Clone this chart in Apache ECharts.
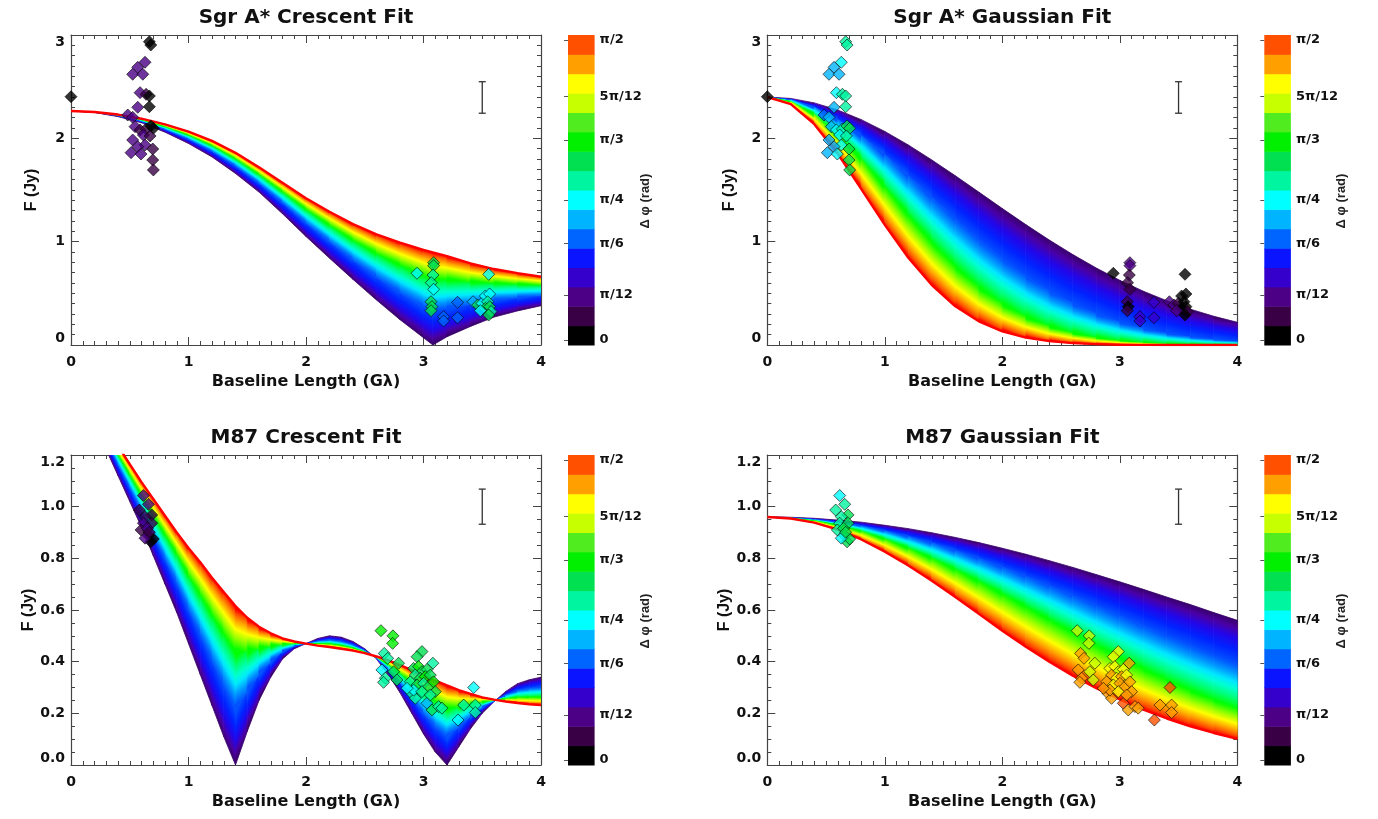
<!DOCTYPE html>
<html><head><meta charset="utf-8">
<script src="https://cdn.jsdelivr.net/npm/echarts@6/dist/echarts.min.js"></script>
<style>html,body{margin:0;padding:0;background:#fff}#c{width:1378px;height:819px}</style>
</head><body><div id="c"></div>
<script>
// ---------------- DATA ----------------
// Model curves (F in Jy) vs baseline length (Glambda) for delta-phi = 0, pi/6, pi/3, pi/2
const sgrCresX   = [0,0.2,0.4,0.6,0.8,1.0,1.2,1.4,1.6,1.8,2.0,2.2,2.4,2.6,2.8,3.0,3.08,3.2,3.4,3.6,3.8,4.0];
const sgrCresD0  = [2.265,2.25,2.21,2.15,2.06,1.95,1.82,1.66,1.48,1.27,1.05,0.84,0.635,0.435,0.245,0.07,0.0,0.08,0.18,0.27,0.33,0.38];
const sgrCresD30 = [2.265,2.252,2.217,2.164,2.086,1.99,1.874,1.73,1.564,1.375,1.18,0.998,0.822,0.657,0.506,0.368,0.33,0.355,0.394,0.433,0.458,0.478];
const sgrCresD60 = [2.265,2.254,2.224,2.178,2.113,2.032,1.93,1.802,1.65,1.483,1.313,1.16,1.015,0.886,0.774,0.674,0.64,0.634,0.613,0.6,0.589,0.58];
const sgrCresD90 = [2.265,2.255,2.23,2.19,2.135,2.065,1.975,1.86,1.72,1.57,1.42,1.29,1.17,1.07,0.99,0.92,0.895,0.86,0.79,0.735,0.695,0.661];

const sgrGausX   = [0,0.2,0.4,0.6,0.8,1.0,1.2,1.4,1.6,1.8,2.0,2.2,2.4,2.6,2.8,3.0,3.2,3.4,3.6,3.8,4.0];
const sgrGausD0  = [2.4,2.386,2.343,2.274,2.181,2.067,1.936,1.791,1.638,1.48,1.321,1.165,1.016,0.875,0.745,0.626,0.521,0.428,0.347,0.278,0.22];
const sgrGausD30 = [2.4,2.375,2.301,2.182,2.026,1.842,1.64,1.429,1.22,1.019,0.834,0.667,0.523,0.402,0.302,0.222,0.16,0.113,0.078,0.053,0.035];
const sgrGausD60 = [2.4,2.357,2.234,2.042,1.801,1.533,1.258,0.996,0.761,0.561,0.399,0.274,0.181,0.116,0.071,0.042,0.024,0.013,0.007,0.004,0.002];
const sgrGausD90 = [2.4,2.331,2.137,1.849,1.509,1.163,0.845,0.58,0.375,0.229,0.132,0.072,0.037,0.018,0.008,0.003,0.001,0,0,0,0];

const m87CresX   = [0.2,0.3,0.4,0.5,0.6,0.7,0.8,0.9,1.0,1.1,1.2,1.3,1.4,1.5,1.6,1.7,1.8,1.9,2.0,2.1,2.2,2.3,2.4,2.5,2.6,2.7,2.8,2.9,3.0,3.1,3.2,3.3,3.4,3.5,3.6,3.7,3.8,3.9,4.0];
const m87CresD0  = [1.31,1.22,1.12,1.02,0.92,0.81,0.7,0.59,0.47,0.35,0.23,0.11,0.0,0.13,0.25,0.34,0.41,0.45,0.47,0.49,0.5,0.495,0.478,0.45,0.41,0.35,0.28,0.2,0.12,0.05,0.0,0.07,0.14,0.2,0.245,0.285,0.315,0.33,0.34];
const m87CresD30 = [1.335,1.252,1.16,1.071,0.981,0.887,0.795,0.702,0.6,0.502,0.403,0.306,0.215,0.284,0.35,0.4,0.438,0.46,0.47,0.48,0.485,0.479,0.466,0.444,0.414,0.369,0.317,0.258,0.199,0.147,0.108,0.147,0.187,0.222,0.248,0.271,0.289,0.297,0.302];
const m87CresD60 = [1.36,1.284,1.202,1.123,1.044,0.966,0.892,0.817,0.733,0.659,0.581,0.508,0.437,0.442,0.452,0.461,0.467,0.47,0.47,0.47,0.469,0.463,0.453,0.438,0.417,0.389,0.356,0.319,0.281,0.247,0.219,0.226,0.236,0.244,0.251,0.257,0.262,0.263,0.263];
const m87CresD90 = [1.38,1.31,1.235,1.165,1.095,1.03,0.965,0.9,0.84,0.785,0.725,0.67,0.615,0.57,0.535,0.51,0.49,0.478,0.47,0.462,0.457,0.45,0.443,0.433,0.42,0.405,0.387,0.367,0.347,0.327,0.308,0.29,0.275,0.262,0.253,0.246,0.24,0.235,0.232];

const m87GausX   = [0,0.2,0.4,0.6,0.8,1.0,1.2,1.4,1.6,1.8,2.0,2.2,2.4,2.6,2.8,3.0,3.2,3.4,3.6,3.8,4.0];
const m87GausD0  = [0.96,0.959,0.955,0.948,0.94,0.928,0.915,0.899,0.881,0.861,0.839,0.816,0.791,0.765,0.737,0.709,0.68,0.65,0.621,0.59,0.56];
const m87GausD30 = [0.96,0.958,0.951,0.941,0.926,0.907,0.885,0.86,0.831,0.8,0.766,0.731,0.694,0.656,0.617,0.578,0.539,0.5,0.463,0.425,0.39];
const m87GausD60 = [0.96,0.956,0.946,0.929,0.905,0.875,0.84,0.801,0.757,0.711,0.663,0.613,0.563,0.513,0.464,0.417,0.372,0.329,0.289,0.252,0.218];
const m87GausD90 = [0.96,0.954,0.938,0.911,0.873,0.826,0.772,0.713,0.65,0.585,0.52,0.458,0.4,0.346,0.297,0.254,0.214,0.18,0.15,0.124,0.101];

// Measured amplitudes (shared by both fits of a source), colour = colour-bar step index
const sgrX = [0.667,0.679,0.63,0.568,0.525,0.611,0.588,0.639,0.667,0.568,0.667,0.483,0.525,0.545,0.588,0.639,0.679,0.701,0.616,0.673,0.525,0.63,0.568,0.696,0.511,0.596,0.696,0.701,0.0,
              2.945,3.086,3.086,3.081,3.066,3.086,3.064,3.072,3.064,3.171,3.171,3.29,3.29,3.555,3.422,3.461,3.498,3.526,3.563,3.546,3.526,3.563,3.575,3.484,3.555];
const sgrY = [2.935,2.903,2.736,2.687,2.62,2.62,2.442,2.426,2.41,2.3,2.306,2.226,2.203,2.113,2.081,2.09,2.12,2.097,2.032,2.023,1.984,1.935,1.919,1.897,1.861,1.848,1.79,1.694,2.403,
              0.694,0.797,0.768,0.677,0.603,0.539,0.419,0.371,0.332,0.274,0.232,0.413,0.264,0.684,0.419,0.387,0.403,0.474,0.494,0.419,0.355,0.371,0.323,0.332,0.29];
const sgrCresC = [0,0,2,2,2,2,2,1,0,2,0,2,2,2,1,1,0,0,2,1,2,2,2,1,2,2,1,1,0,
                  7,9,9,8,8,7,9,9,9,5,5,5,5,7,6,9,7,7,7,8,9,9,8,7,9];
const sgrGausC = [8,8,7,6,6,6,7,8,8,6,8,5,6,6,7,8,9,9,7,8,6,7,6,9,6,7,9,9,0,
                  0,2,2,1,1,1,1,0,1,3,3,3,3,0,2,2,1,0,0,0,0,0,1,2,0];

const m87X = [0.616,0.582,0.659,0.687,0.63,0.616,0.687,0.596,0.65,0.659,0.679,0.701,0.63,0.667,
              2.638,2.74,2.737,2.666,2.695,2.646,2.675,2.66,2.745,2.788,2.774,2.987,2.945,3.08,2.9,2.93,3.03,3.072,3.129,3.157,3.427,3.342,3.441,3.441,3.294,
              2.916,2.958,2.987,3.03,2.93,2.973,3.015,3.058,2.888,2.945,3.001,3.044,3.086,2.916,2.987,3.1,3.058,2.86];
const m87Y = [1.043,0.987,1.009,0.968,0.961,0.936,0.936,0.91,0.916,0.888,0.864,0.875,0.878,0.901,
              0.52,0.5,0.471,0.432,0.413,0.368,0.336,0.32,0.361,0.394,0.329,0.439,0.419,0.394,0.277,0.258,0.239,0.213,0.226,0.22,0.3,0.232,0.232,0.203,0.174,
              0.374,0.381,0.361,0.37,0.348,0.336,0.342,0.348,0.322,0.31,0.316,0.303,0.322,0.29,0.284,0.284,0.271,0.297];
const m87CresC = [2,1,2,1,1,2,1,1,2,1,0,0,2,1,
                  10,10,10,8,8,7,8,8,9,9,9,9,9,8,8,8,6,9,8,8,7,8,8,8,7,
                  9,10,9,9,8,9,10,9,8,9,8,9,10,7,8,9,8,7];
const m87GausC = [7,8,8,9,8,8,9,8,9,9,9,9,7,9,
                  12,12,12,14,14,14,14,14,12,12,12,13,13,14,14,14,15,14,14,14,15,14,14,14,15,
                  13,13,12,13,14,13,14,13,14,13,14,14,14,14,13,14,14,14];

// Error bars [x, low, high]
const sgrErr = [[3.5, 2.243, 2.548]];
const m87Err = [[3.5, 0.932, 1.068]];

// Axis ticks / labels
const sgrYMax = 3, sgrYStep = 1;
const m87YMax = 1.2, m87YStep = 0.2;
const xMax = 4, xStep = 1;
const cbLabels = ['0','π/12','π/6','π/4','π/3','5π/12','π/2'];
const cbTickPos = [1.45,14.5,29.5,42.1,59.5,72.1,88.55];   // colour-bar label positions (degrees scale, 0..90)
const titles = ['Sgr A* Crescent Fit','Sgr A* Gaussian Fit','M87 Crescent Fit','M87 Gaussian Fit'];

// ---------------- STYLE ----------------
const FONT = 'DejaVu Sans';
const VFONT = 'Liberation Sans';
const cbPalette = ['#000000','#3a0046','#4b0086','#3600cc','#0a14ff','#0064ff','#00b4ff','#00ffff',
                   '#00f5a0','#00e050','#00f000','#50ec20','#c8ff00','#ffff00','#ffa000','#ff5000'];
const bandStops = [
  [[0,'#38006a'],[0.18,'#4a00a4'],[0.42,'#2206ea'],[0.7,'#0022ff'],[1,'#0050ff']],
  [[0,'#0050ff'],[0.22,'#0098ff'],[0.42,'#00e8ff'],[0.58,'#00ffd0'],[0.8,'#00ff70'],[1,'#00ff00']],
  [[0,'#00ff00'],[0.3,'#a0ff00'],[0.5,'#ffff00'],[0.72,'#ffa000'],[0.88,'#ff5000'],[1,'#ff0000']]
];
const layouts = [
  {left:71, top:35}, {left:767.3, top:35}, {left:71, top:455}, {left:767.3, top:455}
];
const PW = 470, PH = 310, CBW = 26.6, CBGAP = 27;

const panels = [
  {xs:sgrCresX, lv:[sgrCresD0,sgrCresD30,sgrCresD60,sgrCresD90], px:sgrX, py:sgrY, pc:sgrCresC, err:sgrErr, ymax:sgrYMax, ystep:sgrYStep, minor:10, fmt:v=>String(v)},
  {xs:sgrGausX, lv:[sgrGausD0,sgrGausD30,sgrGausD60,sgrGausD90], px:sgrX, py:sgrY, pc:sgrGausC, err:sgrErr, ymax:sgrYMax, ystep:sgrYStep, minor:10, fmt:v=>String(v)},
  {xs:m87CresX, lv:[m87CresD0,m87CresD30,m87CresD60,m87CresD90], px:m87X, py:m87Y, pc:m87CresC, err:m87Err, ymax:m87YMax, ystep:m87YStep, minor:4, fmt:v=>v.toFixed(1)},
  {xs:m87GausX, lv:[m87GausD0,m87GausD30,m87GausD60,m87GausD90], px:m87X, py:m87Y, pc:m87GausC, err:m87Err, ymax:m87YMax, ystep:m87YStep, minor:4, fmt:v=>v.toFixed(1)}
];

function fanData(xs, lv) {
  const out = [];
  for (let b = 0; b < lv.length - 1; b++) {
    const lo = lv[b], hi = lv[b+1];
    for (let i = 0; i < xs.length - 1; i++) out.push([xs[i], xs[i+1], lo[i], lo[i+1], hi[i], hi[i+1], b]);
  }
  return out;
}
function fanRender(params, api) {
  const xa = api.value(0), xb = api.value(1), la = api.value(2), lb = api.value(3), ha = api.value(4), hb = api.value(5), b = api.value(6);
  const p1 = api.coord([xa, la]), p2 = api.coord([xb, lb]), p3 = api.coord([xb, hb]), p4 = api.coord([xa, ha]);
  const mLx = (p1[0]+p2[0])/2, mLy = (p1[1]+p2[1])/2, mHx = (p3[0]+p4[0])/2, mHy = (p3[1]+p4[1])/2;
  let dx = (p2[0]-p1[0]+p3[0]-p4[0])/2, dy = (p2[1]-p1[1]+p3[1]-p4[1])/2;
  const len = Math.hypot(dx, dy) || 1; dx /= len; dy /= len;
  const nx = -dy, ny = dx;
  let t = (mHx-mLx)*nx + (mHy-mLy)*ny;
  if (Math.abs(t) < 0.5) t = t < 0 ? -0.5 : 0.5;
  const stops = bandStops[b].map(s => ({offset:s[0], color:s[1]}));
  const grad = new echarts.graphic.LinearGradient(mLx, mLy, mLx + nx*t, mLy + ny*t, stops, true);
  return {type:'polygon', shape:{points:[p1,p2,p3,p4]}, style:{fill:grad, stroke:grad, lineWidth:0.8}};
}
function errRender(params, api) {
  const a = api.coord([api.value(0), api.value(1)]), c = api.coord([api.value(0), api.value(2)]);
  const w = 3.5, st = {stroke:'#333', lineWidth:1.3};
  return {type:'group', children:[
    {type:'line', shape:{x1:a[0], y1:a[1], x2:c[0], y2:c[1]}, style:st},
    {type:'line', shape:{x1:a[0]-w, y1:a[1], x2:a[0]+w, y2:a[1]}, style:st},
    {type:'line', shape:{x1:c[0]-w, y1:c[1], x2:c[0]+w, y2:c[1]}, style:st}
  ]};
}
function cbRender(params, api) {
  const i = api.value(0), step = 90/16;
  const a = api.coord([0, i*step]), c = api.coord([1, (i+1)*step]);
  return {type:'rect', shape:{x:a[0], y:c[1], width:c[0]-a[0], height:a[1]-c[1]+0.5}, style:{fill:cbPalette[i]}};
}
function cbFormat(v) {
  let best = 0, bd = Infinity;
  cbTickPos.forEach((p, i) => { const d = Math.abs(p - v); if (d < bd) { bd = d; best = i; } });
  return cbLabels[best];
}

const axisCol = '#444';
const grid = [], xAxis = [], yAxis = [], series = [], gfx = [];
const labelStyle = {color:'#111', fontFamily:FONT, fontWeight:'bold', fontSize:14};
const nameStyle = {color:'#111', fontFamily:FONT, fontWeight:'bold', fontSize:16};
const vNameStyle = {color:'#111', fontFamily:VFONT, fontWeight:'bold', fontSize:16};

panels.forEach((p, g) => {
  const L = layouts[g];
  grid.push({left:L.left, top:L.top, width:PW, height:PH, containLabel:false, outerBoundsMode:'none'});
  const tick = {show:true, inside:true, length:8, lineStyle:{color:axisCol, width:1}};
  const mtick = (n) => ({show:true, splitNumber:n, length:4, lineStyle:{color:axisCol, width:1}});
  const line = {show:true, onZero:false, lineStyle:{color:axisCol, width:1.2}};
  xAxis.push({gridIndex:g, type:'value', min:0, max:xMax, interval:xStep, position:'bottom',
    axisLine:line, axisTick:tick, minorTick:mtick(10), splitLine:{show:false}, minorSplitLine:{show:false},
    axisLabel:Object.assign({margin:10}, labelStyle),
    name:'Baseline Length (Gλ)', nameLocation:'middle', nameGap:29, nameTextStyle:nameStyle});
  xAxis.push({gridIndex:g, type:'value', min:0, max:xMax, interval:xStep, position:'top',
    axisLine:line, axisTick:tick, minorTick:mtick(10), splitLine:{show:false}, axisLabel:{show:false}});
  yAxis.push({gridIndex:g, type:'value', min:0, max:p.ymax, interval:p.ystep, position:'left',
    axisLine:line, axisTick:tick, minorTick:mtick(p.minor), splitLine:{show:false}, minorSplitLine:{show:false},
    axisLabel:Object.assign({margin:6, formatter:p.fmt, verticalAlignMinLabel:'bottom', verticalAlignMaxLabel:'top'}, labelStyle),
    name:'F (Jy)', nameLocation:'middle', nameRotate:90, nameGap:(g%2===0?31:30), nameTextStyle:vNameStyle});
  yAxis.push({gridIndex:g, type:'value', min:0, max:p.ymax, interval:p.ystep, position:'right',
    axisLine:line, axisTick:tick, minorTick:mtick(p.minor), splitLine:{show:false}, axisLabel:{show:false}});

  const xi = 2*g, yi = 2*g;
  series.push({type:'custom', xAxisIndex:xi, yAxisIndex:yi, renderItem:fanRender, clip:true, silent:true, z:1,
    encode:{x:[0,1], y:[2,3,4,5]}, data:fanData(p.xs, p.lv)});
  series.push({type:'line', xAxisIndex:xi, yAxisIndex:yi, symbol:'none', showSymbol:false, clip:true, silent:true, z:3,
    lineStyle:{color:'#ff0000', width:2.4}, data:p.xs.map((x,i)=>[x, p.lv[3][i]])});
  series.push({type:'custom', xAxisIndex:xi, yAxisIndex:yi, renderItem:errRender, silent:true, z:4,
    encode:{x:0, y:[1,2]}, data:p.err});
  series.push({type:'scatter', xAxisIndex:xi, yAxisIndex:yi, symbol:'diamond', symbolSize:12, z:5, clip:false, silent:true,
    itemStyle:{borderColor:'rgba(0,0,0,0.75)', borderWidth:1},
    data:p.px.map((x,i)=>({value:[x, p.py[i]], itemStyle:{color:cbPalette[p.pc[i]]}}))});

  gfx.push({type:'text', x:L.left + PW/2, y:L.top - 17, silent:true,
    style:{text:titles[g], font:'bold 20px "DejaVu Sans"', fill:'#111', align:'center', verticalAlign:'middle'}});
});

// colour bars
layouts.forEach((L, c) => {
  const gi = 4 + c;
  const cbLeft = L.left + PW + CBGAP;
  grid.push({left:cbLeft, top:L.top, width:CBW, height:PH, containLabel:false, outerBoundsMode:'none'});
  xAxis.push({gridIndex:gi, type:'value', min:0, max:1, show:false});
  yAxis.push({gridIndex:gi, type:'value', min:0, max:90, interval:15, position:'right',
    axisLine:{show:false},
    axisTick:{show:true, inside:true, length:4, customValues:cbTickPos, lineStyle:{color:'#555'}},
    splitLine:{show:false},
    axisLabel:{margin:5, color:'#111', fontFamily:FONT, fontWeight:'bold', fontSize:13,
      customValues:cbTickPos, formatter:cbFormat}});
  series.push({type:'custom', xAxisIndex:8+c, yAxisIndex:8+c, renderItem:cbRender, silent:true, z:1,
    encode:{x:-1, y:0}, data:cbPalette.map((_,i)=>[i])});
  gfx.push({type:'text', x:cbLeft + 77, y:L.top + 166, rotation:Math.PI/2, silent:true,
    style:{text:'Δ φ (rad)', font:'bold 13px "Liberation Sans"', fill:'#222', align:'center', verticalAlign:'middle'}});
});

const chart = echarts.init(document.getElementById('c'), null, {renderer:'canvas'});
chart.setOption({animation:false, backgroundColor:'#fff', grid, xAxis, yAxis, series, graphic:{elements:gfx}});
</script></body></html>
